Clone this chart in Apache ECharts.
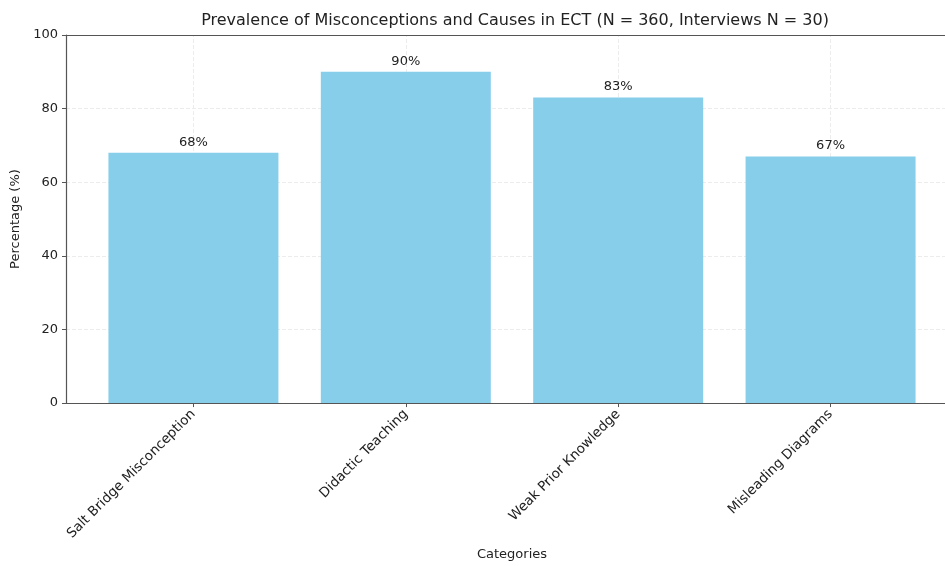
<!DOCTYPE html>
<html>
<head>
<meta charset="utf-8">
<script src="https://cdn.jsdelivr.net/npm/echarts@6/dist/echarts.min.js"></script>
<style>
  html, body { margin: 0; padding: 0; background: #fff; overflow: hidden; }
  /* figure is wider than the window: its right edge is cut off, as in the reference */
  #chart { width: 960px; height: 566px; }
</style>
</head>
<body>
<div id="chart"></div>
<script>
// data
var categories = ['Salt Bridge Misconception', 'Didactic Teaching', 'Weak Prior Knowledge', 'Misleading Diagrams'];
var percentages = [68, 90, 83, 67];
var yTicks = [0, 20, 40, 60, 80, 100];

var chart = echarts.init(document.getElementById('chart'));
var font = 'DejaVu Sans';

// bars sit at x = 0..3 on a value axis (like matplotlib), range -0.6 .. 3.6
var barData = percentages.map(function (v, i) { return [i, v]; });
var catIdx = categories.map(function (c, i) { return i; });

chart.setOption({
  animation: false,
  title: {
    text: 'Prevalence of Misconceptions and Causes in ECT (N = 360, Interviews N = 30)',
    left: 510, top: 8, textAlign: 'center',
    textStyle: { fontFamily: font, fontSize: 16, fontWeight: 'normal', color: '#222' }
  },
  grid: { left: 66, right: 2, top: 35, bottom: 156 },
  xAxis: [{
    type: 'value',
    min: -0.6, max: 3.6,
    name: 'Categories',
    nameLocation: 'middle',
    nameGap: 141,
    nameTextStyle: { fontFamily: font, fontSize: 13, color: '#222' },
    axisLine: { show: true, onZero: false, lineStyle: { color: '#555', width: 1.2 } },
    axisTick: { show: true, customValues: catIdx, length: 4, lineStyle: { color: '#555' } },
    axisLabel: {
      customValues: catIdx,
      rotate: 45,
      fontFamily: font, fontSize: 13.5, color: '#222', margin: 9,
      formatter: function (v) { return categories[Math.round(v)]; }
    },
    splitLine: { show: false }
  }, {
    // top spine only
    type: 'value', position: 'top',
    min: -0.6, max: 3.6,
    axisLine: { show: true, onZero: false, lineStyle: { color: '#555', width: 1.2 } },
    axisTick: { show: false }, axisLabel: { show: false }, splitLine: { show: false }
  }],
  yAxis: {
    type: 'value',
    min: 0, max: 100, interval: 20,
    name: 'Percentage (%)',
    nameLocation: 'middle',
    nameGap: 40,
    nameTextStyle: { fontFamily: font, fontSize: 13, color: '#222' },
    axisLine: { show: true, onZero: false, lineStyle: { color: '#555', width: 1.2 } },
    axisTick: { show: true, length: 4, lineStyle: { color: '#555' } },
    axisLabel: { fontFamily: font, fontSize: 13, color: '#222', margin: 8,
      customValues: yTicks },
    splitLine: { show: true, lineStyle: { color: '#ececec', type: 'dashed', width: 1 } }
  },
  series: [
    {
      type: 'bar',
      data: barData,
      barWidth: 170,
      itemStyle: { color: '#87CEEB' },
      label: {
        show: true, position: 'top', distance: 4,
        fontFamily: font, fontSize: 13, color: '#222',
        formatter: function (p) { return p.value[1] + '%'; }
      },
      z: 5
    },
    {
      // faint vertical grid lines at category positions, behind bars
      type: 'line',
      data: [],
      z: 0,
      markLine: {
        silent: true, symbol: 'none', label: { show: false }, z: 0,
        lineStyle: { color: '#ececec', type: 'dashed', width: 1 },
        data: catIdx.map(function (i) { return { xAxis: i }; })
      }
    }
  ]
});
</script>
</body>
</html>
